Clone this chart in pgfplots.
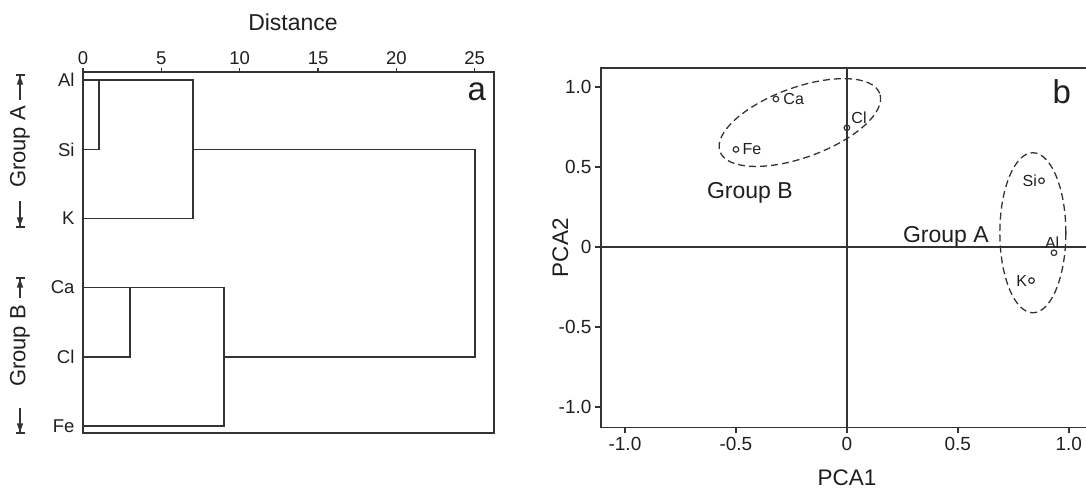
\documentclass[border=0pt]{standalone}
\usepackage{fontspec}
\setmainfont{Liberation Sans}
\usepackage{pgfplots}
\pgfplotsset{compat=1.18}
\usetikzlibrary{arrows.meta}
\definecolor{ln}{gray}{0.2}
\definecolor{tx}{gray}{0.12}
\begin{document}
\begin{tikzpicture}[x=1pt,y=1pt]
\useasboundingbox (0,0) rectangle (1086,493);
% ---------------- panel a : dendrogram ----------------
\begin{axis}[
  at={(83pt,60pt)}, anchor=south west,
  scale only axis, width=411pt, height=361pt,
  xmin=0, xmax=26.23, ymin=0.88, ymax=6.105, y dir=reverse,
  axis line style={ln, line width=1.6pt},
  xtick={0,5,...,25}, xtick pos=upper, xticklabel pos=upper,
  tick align=outside, major tick length=4pt,
  tick style={ln, line width=1.4pt},
  ytick={1,...,6}, yticklabels={Al,Si,K,Ca,Cl,Fe},
  ytick style={draw=none},
  ticklabel style={font=\fontsize{18.5}{20}\selectfont, text=tx},
  yticklabel style={xshift=-1pt},
  /pgf/number format/assume math mode=true,
  xlabel={Distance},
  xlabel style={at={(axis description cs:0.511,1.1385)}, anchor=center,
    font=\fontsize{23}{26}\selectfont, text=tx},
  clip=false,
]
\addplot[ln, line width=1.7pt] coordinates {(0,1) (7,1) (7,3) (0,3)};
\addplot[ln, line width=1.7pt] coordinates {(0,2) (1,2) (1,1)};
\addplot[ln, line width=1.7pt] coordinates {(7,2) (25,2) (25,5) (9,5)};
\addplot[ln, line width=1.7pt] coordinates {(0,4) (9,4) (9,6) (0,6)};
\addplot[ln, line width=1.7pt] coordinates {(0,5) (3,5) (3,4)};
\end{axis}
% group brackets
\tikzset{grparrow/.style={ln, line width=1.3pt, -{Triangle[length=9pt,width=6pt]Bar[width=9pt,line width=1.6pt]}}}
\node[rotate=90, text=tx, font=\fontsize{22}{24}\selectfont] at (20,346) {Group A};
\draw[grparrow] (20,393) -- (20,419);
\draw[grparrow] (20,292) -- (20,265);
\node[rotate=90, text=tx, font=\fontsize{22}{24}\selectfont] at (20,147) {Group B};
\draw[grparrow] (20,195) -- (20,216);
\draw[grparrow] (20,85) -- (20,59);
\node[text=tx, font=\fontsize{33}{35}\selectfont] at (476.7,401.3) {a};
% ---------------- panel b : PCA ----------------
\begin{axis}[
  at={(601pt,65.7pt)}, anchor=south west,
  scale only axis, width=490pt, height=359pt,
  xmin=-1.108, xmax=1.10, ymin=-1.127, ymax=1.117,
  axis line style={ln, line width=1.6pt},
  xtick={-1,-0.5,0,0.5,1}, xticklabels={-1.0,-0.5,0,0.5,1.0},
  ytick={-1,-0.5,0,0.5,1}, yticklabels={-1.0,-0.5,0,0.5,1.0},
  xtick pos=lower, ytick pos=left,
  tick align=outside, major tick length=6pt,
  tick style={ln, line width=1.4pt},
  ticklabel style={font=\fontsize{19}{21}\selectfont, text=tx},
  xlabel={PCA1}, ylabel={PCA2},
  xlabel style={at={(axis description cs:0.502,-0.141)}, anchor=center,
    font=\fontsize{22.5}{25}\selectfont, text=tx},
  ylabel style={at={(axis description cs:-0.083,0.50)}, anchor=center,
    font=\fontsize{22.5}{25}\selectfont, text=tx},
  clip=false,
]
\draw[ln, line width=1.6pt] (axis cs:0,-1.127) -- (axis cs:0,1.117);
\draw[ln, line width=1.6pt] (axis cs:-1.108,0) -- (axis cs:1.10,0);
\addplot[only marks, mark=o, mark size=2.8pt, ln, mark options={line width=1.2pt},
  nodes near coords, point meta=explicit symbolic,
  visualization depends on={value \thisrow{anc} \as \anc},
  visualization depends on={value \thisrow{sep} \as \sep},
  nodes near coords style={anchor=\anc, font=\fontsize{16}{18}\selectfont, text=tx, inner sep=\sep pt}]
  table[meta=lab] {
x      y      lab  anc  sep
-0.32  0.925  Ca   180  7
0.0    0.745  Cl   220  4
-0.50  0.61   Fe   180  6
0.877  0.414  Si   0    4
0.933  -0.036 Al   280  4
0.832  -0.21  K    0    4
};
\draw[ln, line width=1.3pt, dash pattern=on 7pt off 4pt, rotate around={20:(axis cs:-0.212,0.778)}]
  (axis cs:-0.212,0.778) ellipse [x radius=85pt, y radius=35pt];
\draw[ln, line width=1.3pt, dash pattern=on 7pt off 4pt]
  (axis cs:0.838,0.089) ellipse [x radius=33pt, y radius=80pt];
\node[anchor=base, text=tx, font=\fontsize{23}{26}\selectfont] at (axis cs:-0.437,0.306) {Group B};
\node[anchor=base, text=tx, font=\fontsize{23}{26}\selectfont] at (axis cs:0.446,0.031) {Group A};
\end{axis}
\node[text=tx, font=\fontsize{33}{35}\selectfont] at (1061.7,401.3) {b};
\end{tikzpicture}
\end{document}
